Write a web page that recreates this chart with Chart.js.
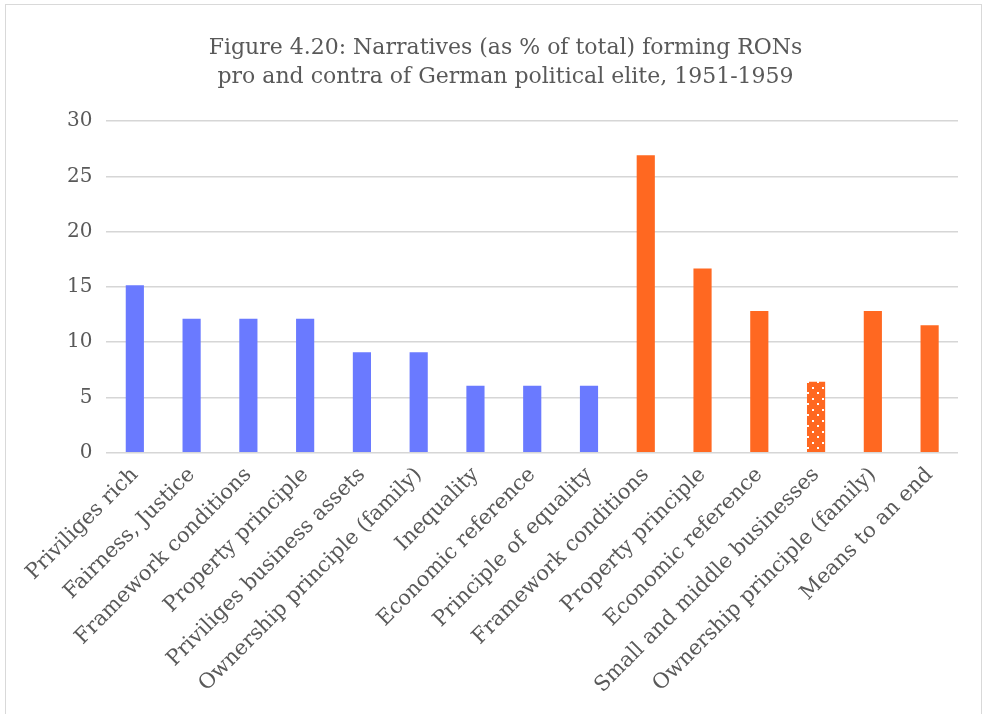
<!DOCTYPE html>
<html>
<head>
<meta charset="utf-8">
<script src="https://cdn.jsdelivr.net/npm/chart.js@4"></script>
<style>
  html, body { margin: 0; padding: 0; background: #fff; }
  #frame {
    position: absolute; left: 5px; top: 4px; width: 977px; height: 720px;
    border: 1px solid #d9d9d9; box-sizing: border-box;
  }
  #wrap { position: absolute; left: 0; top: 0; width: 986px; height: 714px; }
</style>
</head>
<body>
<div id="frame"></div>
<div id="wrap"><canvas id="narratives"></canvas></div>
<script>
var categories = [
    "Priviliges rich",
    "Fairness, Justice",
    "Framework conditions",
    "Property principle",
    "Priviliges business assets",
    "Ownership principle (family)",
    "Inequality",
    "Economic reference",
    "Principle of equality",
    "Framework conditions",
    "Property principle",
    "Economic reference",
    "Small and middle businesses",
    "Ownership principle (family)",
    "Means to an end"
];
// share of narratives in %, pro (first nine) and contra (last six)
var shares = [15.15, 12.12, 12.12, 12.12, 9.09, 9.09, 6.06, 6.06, 6.06,
              26.92, 16.67, 12.82, 6.41, 12.82, 11.54];
var sides = ["pro", "pro", "pro", "pro", "pro", "pro", "pro", "pro", "pro",
             "contra", "contra", "contra", "dotted", "contra", "contra"];
var yTicks = [0, 5, 10, 15, 20, 25, 30];

var blue = "#6a7aff";
var orange = "#ff6821";
var textColor = "#595959";
var serif = "'DejaVu Serif', 'Liberation Serif', serif";

function dotPattern() {
    var c = document.createElement("canvas");
    c.width = 10;
    c.height = 11;
    var g = c.getContext("2d");
    g.fillStyle = orange;
    g.fillRect(0, 0, 10, 11);
    g.fillStyle = "#ffffff";
    g.fillRect(2, 2, 2, 2);
    g.fillRect(7, 7, 2, 2);
    return g.createPattern(c, "repeat");
}

var pattern = dotPattern();
var barColors = sides.map(function(s) {
    if (s === "pro") return blue;
    if (s === "dotted") return pattern;
    return orange;
});

var ctx = document.getElementById("narratives").getContext("2d");
var chart = new Chart(ctx, {
    type: "bar",
    data: {
        labels: categories,
        datasets: [
            {
                data: shares,
                backgroundColor: barColors,
                barPercentage: 0.32,
                categoryPercentage: 1
            }
        ]
    },
    options: {
        responsive: true,
        maintainAspectRatio: false,
        animation: false,
        layout: {
            padding: { left: 53, right: 28, top: 26, bottom: 14 }
        },
        plugins: {
            legend: { display: false },
            tooltip: { enabled: false },
            title: {
                display: true,
                text: [
                    "Figure 4.20: Narratives (as % of total) forming RONs",
                    "pro and contra of German political elite, 1951-1959"
                ],
                color: textColor,
                font: { family: serif, size: 22, weight: "normal", lineHeight: 1.3 },
                padding: { top: 8, bottom: 30 }
            }
        },
        scales: {
            y: {
                min: 0,
                max: 30,
                afterBuildTicks: function(axis) {
                    axis.ticks = yTicks.map(function(v) { return { value: v }; });
                },
                ticks: {
                    color: textColor,
                    font: { family: serif, size: 20 },
                    padding: 14
                },
                grid: { color: "#d6d6d6", lineWidth: 1.6, drawTicks: false },
                border: { display: false }
            },
            x: {
                ticks: {
                    color: textColor,
                    font: { family: serif, size: 21 },
                    minRotation: 45,
                    maxRotation: 45,
                    autoSkip: false,
                    padding: 2
                },
                grid: { display: false },
                border: { display: false }
            }
        }
    }
});
</script>
</body>
</html>
